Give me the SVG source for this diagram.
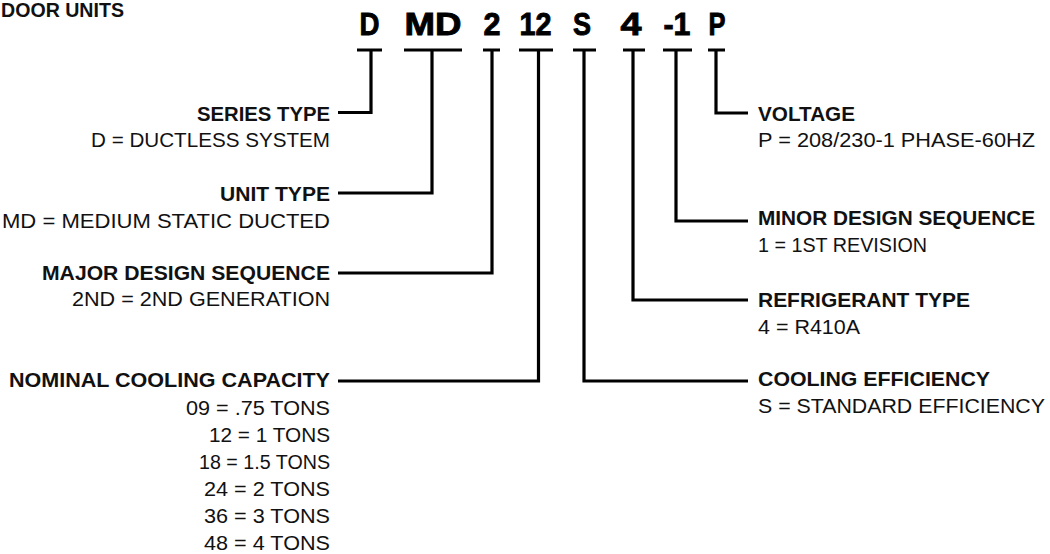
<svg xmlns="http://www.w3.org/2000/svg" width="1050" height="554" viewBox="0 0 1050 554">
<style>
.t{font-family:"Liberation Sans",Arial,sans-serif;fill:#111}
.b{font-weight:bold;font-size:19.5px}
.r{font-weight:normal;font-size:20px}
.code{font-family:"Liberation Sans",Arial,sans-serif;font-weight:bold;font-size:32px;fill:#000;stroke:#000;stroke-width:0.9;text-anchor:middle}
.L{text-anchor:end}
.c{fill:none;stroke:#000;stroke-width:3.2;stroke-linejoin:miter;stroke-linecap:butt}
</style>
<rect width="1050" height="554" fill="#fff"/>
<text id="title" class="t b" x="1" y="17" textLength="123" lengthAdjust="spacingAndGlyphs">DOOR UNITS</text>
<g id="code">
<text class="code" x="369.5" y="35" textLength="20" lengthAdjust="spacingAndGlyphs">D</text>
<text class="code" x="433" y="35" textLength="57" lengthAdjust="spacingAndGlyphs">MD</text>
<text class="code" x="492" y="35" textLength="17" lengthAdjust="spacingAndGlyphs">2</text>
<text class="code" x="535.5" y="35" textLength="32" lengthAdjust="spacingAndGlyphs">12</text>
<text class="code" x="582" y="35" textLength="18" lengthAdjust="spacingAndGlyphs">S</text>
<text class="code" x="631" y="35" textLength="21" lengthAdjust="spacingAndGlyphs">4</text>
<text class="code" x="677" y="35" textLength="27" lengthAdjust="spacingAndGlyphs">-1</text>
<text class="code" x="717" y="35" textLength="17" lengthAdjust="spacingAndGlyphs">P</text>
</g>
<g id="connectors">
<path class="c" d="M357 50H382M371 50V112.5H338"/>
<path class="c" d="M404 50H462M432 50V193H338"/>
<path class="c" d="M483 50H500M492 50V273H338"/>
<path class="c" d="M519 50H553M538.5 50V381H338"/>
<path class="c" d="M573 50H596M584 50V381H748"/>
<path class="c" d="M623 50H645M633 50V300H748"/>
<path class="c" d="M663 50H692M676 50V221H748"/>
<path class="c" d="M708 50H725M716 50V113H748"/>
</g>
<g id="series-type">
<text class="t b L" x="330" y="121" textLength="133" lengthAdjust="spacingAndGlyphs">SERIES TYPE</text>
<text class="t r L" x="330" y="147" textLength="239" lengthAdjust="spacingAndGlyphs">D = DUCTLESS SYSTEM</text>
</g>
<g id="unit-type">
<text class="t b L" x="330" y="201" textLength="110" lengthAdjust="spacingAndGlyphs">UNIT TYPE</text>
<text class="t r L" x="330" y="228" textLength="328" lengthAdjust="spacingAndGlyphs">MD = MEDIUM STATIC DUCTED</text>
</g>
<g id="major-design">
<text class="t b L" x="330" y="280" textLength="288" lengthAdjust="spacingAndGlyphs">MAJOR DESIGN SEQUENCE</text>
<text class="t r L" x="330" y="306" textLength="258" lengthAdjust="spacingAndGlyphs">2ND = 2ND GENERATION</text>
</g>
<g id="nominal-capacity">
<text class="t b L" x="330" y="387" textLength="321" lengthAdjust="spacingAndGlyphs">NOMINAL COOLING CAPACITY</text>
<text class="t r L" x="330" y="415" textLength="144" lengthAdjust="spacingAndGlyphs">09 = .75 TONS</text>
<text class="t r L" x="330" y="442" textLength="121" lengthAdjust="spacingAndGlyphs">12 = 1 TONS</text>
<text class="t r L" x="330" y="469" textLength="131" lengthAdjust="spacingAndGlyphs">18 = 1.5 TONS</text>
<text class="t r L" x="330" y="496" textLength="126" lengthAdjust="spacingAndGlyphs">24 = 2 TONS</text>
<text class="t r L" x="330" y="523" textLength="126" lengthAdjust="spacingAndGlyphs">36 = 3 TONS</text>
<text class="t r L" x="330" y="550" textLength="126" lengthAdjust="spacingAndGlyphs">48 = 4 TONS</text>
</g>
<g id="voltage">
<text class="t b" x="758" y="121" textLength="97" lengthAdjust="spacingAndGlyphs">VOLTAGE</text>
<text class="t r" x="758" y="147" textLength="277" lengthAdjust="spacingAndGlyphs">P = 208/230-1 PHASE-60HZ</text>
</g>
<g id="minor-design">
<text class="t b" x="758" y="225" textLength="277" lengthAdjust="spacingAndGlyphs">MINOR DESIGN SEQUENCE</text>
<text class="t r" x="758" y="252" textLength="169" lengthAdjust="spacingAndGlyphs">1 = 1ST REVISION</text>
</g>
<g id="refrigerant">
<text class="t b" x="758" y="307" textLength="212" lengthAdjust="spacingAndGlyphs">REFRIGERANT TYPE</text>
<text class="t r" x="758" y="334" textLength="102" lengthAdjust="spacingAndGlyphs">4 = R410A</text>
</g>
<g id="cooling-efficiency">
<text class="t b" x="758" y="386" textLength="232" lengthAdjust="spacingAndGlyphs">COOLING EFFICIENCY</text>
<text class="t r" x="758" y="413" textLength="287" lengthAdjust="spacingAndGlyphs">S = STANDARD EFFICIENCY</text>
</g>
</svg>
